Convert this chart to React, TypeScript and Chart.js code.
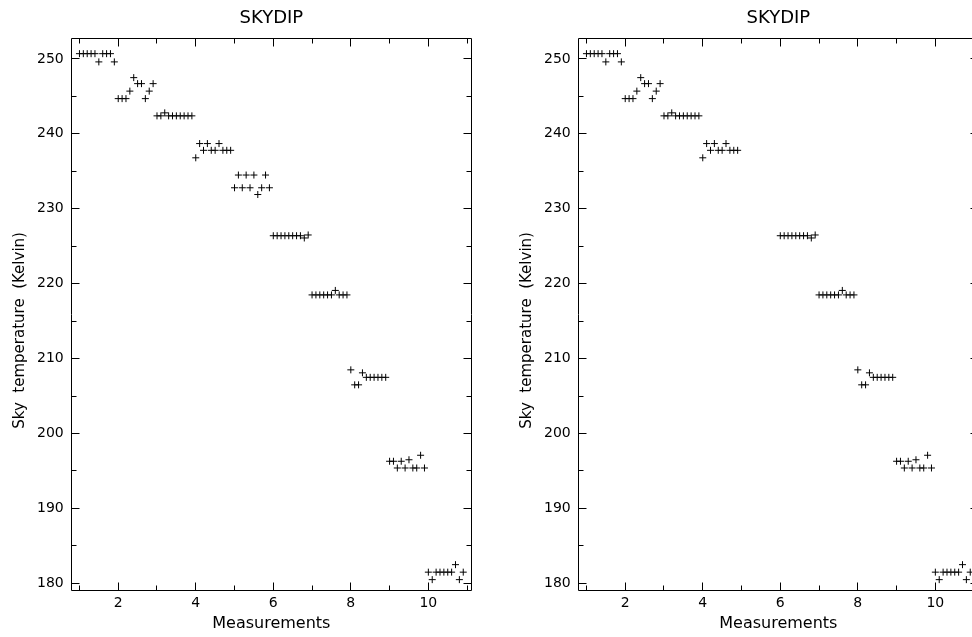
import React, { useEffect, useRef } from "react";
import { Chart, registerables } from "chart.js";

Chart.register(...registerables);

// ---- data ----
const MEASUREMENT_X = [
  1.0, 1.1, 1.2, 1.3, 1.4, 1.5, 1.6, 1.7, 1.8, 1.9,
  2.0, 2.1, 2.2, 2.3, 2.4, 2.5, 2.6, 2.7, 2.8, 2.9,
  3.0, 3.1, 3.2, 3.3, 3.4, 3.5, 3.6, 3.7, 3.8, 3.9,
  4.0, 4.1, 4.2, 4.3, 4.4, 4.5, 4.6, 4.7, 4.8, 4.9,
  5.0, 5.1, 5.2, 5.3, 5.4, 5.5, 5.6, 5.7, 5.8, 5.9,
  6.0, 6.1, 6.2, 6.3, 6.4, 6.5, 6.6, 6.7, 6.8, 6.9,
  7.0, 7.1, 7.2, 7.3, 7.4, 7.5, 7.6, 7.7, 7.8, 7.9,
  8.0, 8.1, 8.2, 8.3, 8.4, 8.5, 8.6, 8.7, 8.8, 8.9,
  9.0, 9.1, 9.2, 9.3, 9.4, 9.5, 9.6, 9.7, 9.8, 9.9,
  10.0, 10.1, 10.2, 10.3, 10.4, 10.5, 10.6, 10.7, 10.8, 10.9,
];

const SKY_TEMP = [
  250.7, 250.7, 250.7, 250.7, 250.7, 249.6, 250.7, 250.7, 250.7, 249.6,
  244.7, 244.7, 244.7, 245.7, 247.5, 246.7, 246.7, 244.7, 245.7, 246.7,
  242.4, 242.4, 242.8, 242.4, 242.4, 242.4, 242.4, 242.4, 242.4, 242.4,
  236.8, 238.7, 237.8, 238.7, 237.8, 237.8, 238.7, 237.8, 237.8, 237.8,
  232.8, 234.5, 232.8, 234.5, 232.8, 234.5, 231.9, 232.8, 234.5, 232.8,
  226.4, 226.4, 226.4, 226.4, 226.4, 226.4, 226.4, 226.4, 226.1, 226.5,
  218.5, 218.5, 218.5, 218.5, 218.5, 218.5, 219.1, 218.5, 218.5, 218.5,
  208.5, 206.5, 206.5, 208.1, 207.5, 207.5, 207.5, 207.5, 207.5, 207.5,
  196.3, 196.3, 195.4, 196.3, 195.4, 196.5, 195.4, 195.4, 197.1, 195.4,
  181.5, 180.5, 181.5, 181.5, 181.5, 181.5, 181.5, 182.5, 180.5, 181.5,
];

// the right-hand panel omits the 5th block of measurements
const RIGHT_PANEL_DROPPED_BLOCK = 5;

const X_MAJOR_TICKS = [2, 4, 6, 8, 10];
const X_MINOR_TICKS = [1, 3, 5, 7, 9, 11];
const Y_MAJOR_TICKS = [180, 190, 200, 210, 220, 230, 240, 250];
const Y_MINOR_TICKS = [185, 195, 205, 215, 225, 235, 245];

const X_MIN = 0.8;
const X_MAX = 11.1;
const Y_MIN = 179.05;
const Y_MAX = 252.75;

const TITLE = "SKYDIP";
const X_LABEL = "Measurements";
const Y_LABEL = "Sky  temperature  (Kelvin)";

const FONT = "DejaVu Sans";

const framePlugin = {
  id: "pgframe",
  afterDraw(chart: any) {
    const { ctx, chartArea: a, scales } = chart;
    const xs = scales.x;
    const ys = scales.y;
    const L = Math.floor(a.left) + 0.5;
    const R = Math.floor(a.right) + 0.5;
    const T = Math.floor(a.top) + 0.5;
    const B = Math.floor(a.bottom) + 0.5;
    ctx.save();
    ctx.strokeStyle = "#000";
    ctx.lineWidth = 1;
    ctx.beginPath();
    ctx.rect(L, T, R - L, B - T);
    const major = 8;
    const minor = 5;
    const vx = (vals: number[], len: number) => {
      for (const v of vals) {
        const p = Math.floor(xs.getPixelForValue(v)) + 0.5;
        ctx.moveTo(p, B);
        ctx.lineTo(p, B - len);
        ctx.moveTo(p, T);
        ctx.lineTo(p, T + len);
      }
    };
    const vy = (vals: number[], len: number) => {
      for (const v of vals) {
        const p = Math.floor(ys.getPixelForValue(v)) + 0.5;
        ctx.moveTo(L, p);
        ctx.lineTo(L + len, p);
        ctx.moveTo(R, p);
        ctx.lineTo(R - len, p);
      }
    };
    vx(X_MAJOR_TICKS, major);
    vx(X_MINOR_TICKS, minor);
    vy(Y_MAJOR_TICKS, major);
    vy(Y_MINOR_TICKS, minor);
    ctx.stroke();

    ctx.fillStyle = "#000";
    const cx = (a.left + a.right) / 2;
    ctx.font = `18px "${FONT}"`;
    ctx.textAlign = "center";
    ctx.textBaseline = "alphabetic";
    ctx.fillText(TITLE, cx, a.top - 15);

    ctx.font = `16px "${FONT}"`;
    ctx.fillText(X_LABEL, cx, a.bottom + 37);

    ctx.font = `15px "${FONT}"`;
    ctx.translate(a.left - 47.5, (a.top + a.bottom) / 2 + 16);
    ctx.rotate(-Math.PI / 2);
    ctx.fillText(Y_LABEL, 0, 0);
    ctx.restore();
  },
};

function buildConfig(points: { x: number; y: number }[]) {
  return {
    type: "scatter" as const,
    data: {
      datasets: [
        {
          data: points,
          pointStyle: "cross",
          pointRadius: 3.5,
          pointHoverRadius: 3.5,
          borderWidth: 1,
          borderColor: "#000",
          backgroundColor: "#000",
          showLine: false,
        },
      ],
    },
    options: {
      responsive: false,
      animation: false as const,
      events: [],
      layout: { padding: { top: 38.3, right: 15, left: 0, bottom: 0 } },
      plugins: {
        legend: { display: false },
        tooltip: { enabled: false },
        title: { display: false },
      },
      scales: {
        x: {
          type: "linear" as const,
          min: X_MIN,
          max: X_MAX,
          grid: { display: false, drawTicks: false },
          border: { display: false },
          afterFit: (s: any) => {
            s.height = 46.5;
          },
          afterBuildTicks: (s: any) => {
            s.ticks = X_MAJOR_TICKS.map((v) => ({ value: v }));
          },
          ticks: {
            color: "#000",
            padding: 4,
            maxRotation: 0,
            autoSkip: false,
            font: { family: FONT, size: 14 },
          },
        },
        y: {
          type: "linear" as const,
          min: Y_MIN,
          max: Y_MAX,
          grid: { display: false, drawTicks: false },
          border: { display: false },
          afterFit: (s: any) => {
            s.width = 71.7;
          },
          afterBuildTicks: (s: any) => {
            s.ticks = Y_MAJOR_TICKS.map((v) => ({ value: v }));
          },
          ticks: {
            color: "#000",
            padding: 8,
            autoSkip: false,
            font: { family: FONT, size: 14 },
          },
        },
      },
    },
    plugins: [framePlugin],
  };
}

function Panel({ left, dropBlock }: { left: number; dropBlock: number | null }) {
  const ref = useRef<HTMLCanvasElement | null>(null);
  useEffect(() => {
    const pts = MEASUREMENT_X.map((x, i) => ({ x, y: SKY_TEMP[i] })).filter(
      (p) => dropBlock === null || Math.floor(p.x + 1e-9) !== dropBlock
    );
    const chart = new Chart(ref.current as HTMLCanvasElement, buildConfig(pts) as any);
    return () => chart.destroy();
  }, [dropBlock]);
  return (
    <canvas
      ref={ref}
      width={486}
      height={637}
      style={{ position: "absolute", left, top: 0, width: 486, height: 637 }}
    />
  );
}

export default function App() {
  return (
    <div
      style={{
        position: "fixed",
        left: 0,
        top: 0,
        width: 972,
        height: 637,
        overflow: "hidden",
        background: "#fff",
      }}
    >
      <Panel left={0} dropBlock={null} />
      <Panel left={507} dropBlock={RIGHT_PANEL_DROPPED_BLOCK} />
    </div>
  );
}
